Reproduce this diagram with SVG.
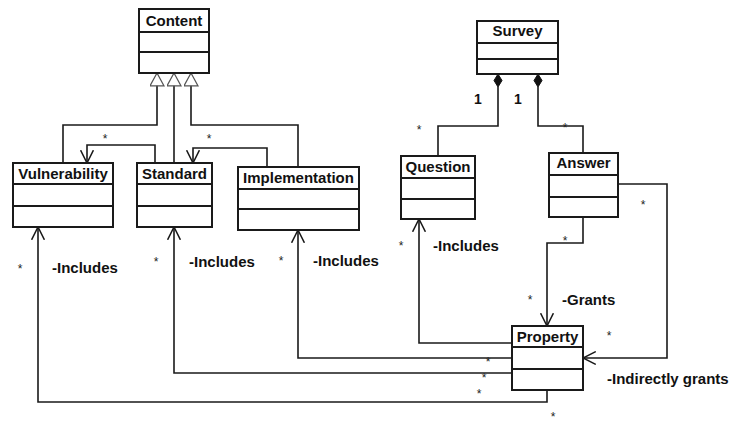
<svg xmlns="http://www.w3.org/2000/svg" width="731" height="425" viewBox="0 0 731 425">
<style>
.box{fill:#fff;stroke:#1a1a1a;stroke-width:2}
.div{stroke:#1a1a1a;stroke-width:2}
.name{font-family:"Liberation Sans",Arial,sans-serif;font-weight:bold;font-size:15px;fill:#111;text-anchor:middle}
.lbl{font-family:"Liberation Sans",Arial,sans-serif;font-weight:bold;font-size:15px;fill:#111}
.star{font-family:"Liberation Sans",Arial,sans-serif;font-size:12px;fill:#222;text-anchor:middle}
.one{font-family:"Liberation Sans",Arial,sans-serif;font-weight:bold;font-size:14px;fill:#111;text-anchor:middle}
.c{fill:none;stroke:#1a1a1a;stroke-width:1.6}
.arr{marker-end:url(#open)}
.gen{marker-end:url(#tri)}
</style>
<defs>
<marker id="open" markerUnits="userSpaceOnUse" markerWidth="14" markerHeight="14" viewBox="0 0 12 12" refX="11.5" refY="6" orient="auto">
<path d="M0.5,0.5 L11.5,6 L0.5,11.5" fill="none" stroke="#1a1a1a" stroke-width="1.3"/>
</marker>
<marker id="tri" markerUnits="userSpaceOnUse" markerWidth="16" markerHeight="16" viewBox="0 0 14 15" refX="13" refY="7" orient="auto">
<path d="M1,0.5 L13,7 L1,13.5 Z" fill="#fff" stroke="#555" stroke-width="1.2"/>
</marker>
</defs>
<rect width="731" height="425" fill="#fff"/>
<g id="connectors">
<path class="c gen" d="M63,163 V125 H157 V73"/>
<path class="c gen" d="M174,163 V73"/>
<path class="c gen" d="M298,167 V125 H191 V73"/>
<path class="c arr" d="M155,163 V145 H87 V163"/>
<path class="c arr" d="M267,167 V148 H193 V163"/>
<path class="c" d="M498,87 V126 H438 V156"/>
<polygon points="498,74 502,80.5 498,87 494,80.5" fill="#111" stroke="#111" stroke-width="1"/>
<path class="c" d="M538,87 V126 H583 V153"/>
<polygon points="538,74 542,80.5 538,87 534,80.5" fill="#111" stroke="#111" stroke-width="1"/>
<path class="c arr" d="M618,184 H667 V358 H583"/>
<path class="c arr" d="M583,217 V243 H547 V326"/>
<path class="c arr" d="M512,343 H419 V219"/>
<path class="c arr" d="M512,358 H298 V230"/>
<path class="c arr" d="M512,373 H174 V227"/>
<path class="c arr" d="M547,390 V402 H38 V227"/>
</g>
<g id="content">
<rect class="box" x="139" y="9" width="70" height="64"/>
<line class="div" x1="139" y1="32" x2="209" y2="32"/>
<line class="div" x1="139" y1="52" x2="209" y2="52"/>
<text class="name" x="174" y="26">Content</text>
</g>
<g id="vulnerability">
<rect class="box" x="13" y="163" width="100" height="64"/>
<line class="div" x1="13" y1="184" x2="113" y2="184"/>
<line class="div" x1="13" y1="206" x2="113" y2="206"/>
<text class="name" x="63" y="179">Vulnerability</text>
</g>
<g id="standard">
<rect class="box" x="137" y="163" width="75" height="64"/>
<line class="div" x1="137" y1="184" x2="212" y2="184"/>
<line class="div" x1="137" y1="206" x2="212" y2="206"/>
<text class="name" x="174.5" y="179">Standard</text>
</g>
<g id="implementation">
<rect class="box" x="238" y="167" width="121" height="63"/>
<line class="div" x1="238" y1="189" x2="359" y2="189"/>
<line class="div" x1="238" y1="209" x2="359" y2="209"/>
<text class="name" x="298.5" y="183">Implementation</text>
</g>
<g id="survey">
<rect class="box" x="477" y="21" width="81" height="53"/>
<line class="div" x1="477" y1="43" x2="558" y2="43"/>
<line class="div" x1="477" y1="59" x2="558" y2="59"/>
<text class="name" x="517.5" y="36">Survey</text>
</g>
<g id="question">
<rect class="box" x="401" y="156" width="74" height="63"/>
<line class="div" x1="401" y1="178" x2="475" y2="178"/>
<line class="div" x1="401" y1="199" x2="475" y2="199"/>
<text class="name" x="438" y="172">Question</text>
</g>
<g id="answer">
<rect class="box" x="549" y="153" width="69" height="64"/>
<line class="div" x1="549" y1="175" x2="618" y2="175"/>
<line class="div" x1="549" y1="197" x2="618" y2="197"/>
<text class="name" x="583.5" y="168">Answer</text>
</g>
<g id="property">
<rect class="box" x="512" y="326" width="71" height="64"/>
<line class="div" x1="512" y1="347" x2="583" y2="347"/>
<line class="div" x1="512" y1="369" x2="583" y2="369"/>
<text class="name" x="547.5" y="342">Property</text>
</g>
<g id="labels">
<text class="star" x="105" y="143">*</text>
<text class="star" x="209" y="143">*</text>
<text class="one" x="478" y="104">1</text>
<text class="one" x="518" y="104">1</text>
<text class="star" x="419" y="134">*</text>
<text class="star" x="565" y="132">*</text>
<text class="star" x="643" y="209">*</text>
<text class="star" x="401" y="250">*</text>
<text class="star" x="565" y="245">*</text>
<text class="star" x="530" y="304">*</text>
<text class="star" x="609" y="340">*</text>
<text class="star" x="488" y="366">*</text>
<text class="star" x="484" y="382">*</text>
<text class="star" x="479" y="398">*</text>
<text class="star" x="553" y="421">*</text>
<text class="star" x="20" y="273">*</text>
<text class="star" x="156" y="266">*</text>
<text class="star" x="281" y="265">*</text>
<text class="lbl" x="52" y="273">-Includes</text>
<text class="lbl" x="189" y="267">-Includes</text>
<text class="lbl" x="313" y="266">-Includes</text>
<text class="lbl" x="433" y="251">-Includes</text>
<text class="lbl" x="562" y="305">-Grants</text>
<text class="lbl" x="607" y="384">-Indirectly grants</text>
</g>
</svg>
